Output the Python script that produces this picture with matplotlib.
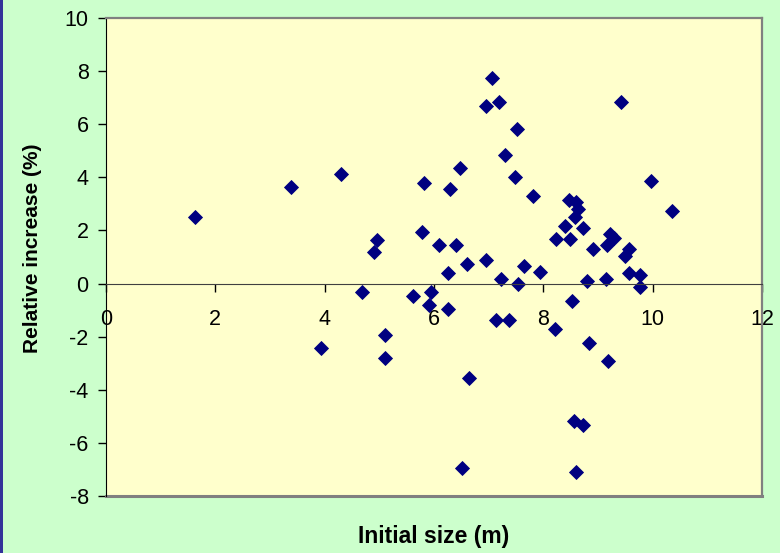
import matplotlib.pyplot as plt
from matplotlib.patches import Rectangle

plt.rcParams['font.family'] = ['Liberation Sans', 'DejaVu Sans']
plt.rcParams['axes.unicode_minus'] = False

# initial size (m) and relative increase (%)
initialSize = [1.63, 3.39, 4.29, 3.94, 4.68, 4.96, 4.91, 5.10, 5.10, 5.62,
               5.78, 5.82, 5.90, 5.94, 6.10, 6.25, 6.25, 6.29, 6.40, 6.48,
               6.52, 6.61, 6.64, 6.95, 6.96, 7.07, 7.14, 7.19, 7.23, 7.30,
               7.38, 7.48, 7.52, 7.53, 7.65, 7.82, 7.94, 8.21, 8.23, 8.40,
               8.47, 8.49, 8.52, 8.56, 8.58, 8.60, 8.60, 8.64, 8.72, 8.72,
               8.80, 8.83, 8.91, 9.15, 9.16, 9.19, 9.22, 9.29, 9.42, 9.49,
               9.57, 9.57, 9.77, 9.77, 9.97, 10.36]
relIncrease = [2.51, 3.62, 4.11, -2.42, -0.33, 1.64, 1.19, -1.94, -2.81, -0.47,
               1.93, 3.79, -0.80, -0.30, 1.45, 0.41, -0.95, 3.55, 1.46, 4.35,
               -6.93, 0.74, -3.54, 0.89, 6.69, 7.73, -1.37, 6.85, 0.17, 4.84,
               -1.37, 4.03, 5.81, 0.00, 0.65, 3.31, 0.42, -1.71, 1.69, 2.17,
               3.15, 1.69, -0.66, -5.16, 2.50, 3.08, -7.08, 2.80, 2.09, -5.32,
               0.10, -2.25, 1.29, 0.18, 1.45, -2.90, 1.88, 1.70, 6.85, 1.03,
               1.30, 0.40, 0.33, -0.14, 3.85, 2.74]

xTicks = [0, 2, 4, 6, 8, 10, 12]
yTicks = [-8, -6, -4, -2, 0, 2, 4, 6, 8, 10]

fig = plt.figure(figsize=(7.8, 5.53), dpi=100, facecolor='#CCFFCC')
fig.patches.append(Rectangle((0, 0), 3 / 780, 1, transform=fig.transFigure,
                             facecolor='#333399', edgecolor='none'))
ax = fig.add_axes([106 / 780, 57 / 553, 656 / 780, 478 / 553])
ax.set_facecolor('#FFFFCC')

ax.plot(initialSize, relIncrease, linestyle='none', marker='D',
        markersize=7.2, color='#000080', markeredgewidth=0.6, clip_on=False)

ax.set_xlim(0, 12)
ax.set_ylim(-8, 10)
ax.set_xticks(xTicks)
ax.set_yticks(yTicks)

# x axis crosses at y = 0, plot frame is grey
ax.spines['bottom'].set_position(('data', 0))
ax.spines['bottom'].set_color('#404040')
ax.spines['left'].set_color('black')
for s in ['top', 'right']:
    ax.spines[s].set_color('#808080')
    ax.spines[s].set_linewidth(1.6)
ax.plot([0, 1], [0, 0], transform=ax.transAxes, color='#808080', lw=2.2,
        clip_on=False)

ax.tick_params(axis='x', direction='out', length=5.5, width=1, pad=13,
               labelsize=15.5, colors='black')
ax.tick_params(axis='y', direction='out', length=5.5, width=1, pad=7,
               labelsize=15.5)

fig.text(434 / 780, 1 - 537 / 553, 'Initial size (m)', ha='center',
         va='center', fontsize=16.5, fontweight='bold')
fig.text(33 / 780, 1 - 248 / 553, 'Relative increase (%)', ha='center',
         va='center', rotation=90, fontsize=15, fontweight='bold')

fig.savefig('out.png', dpi=100, facecolor=fig.get_facecolor())
